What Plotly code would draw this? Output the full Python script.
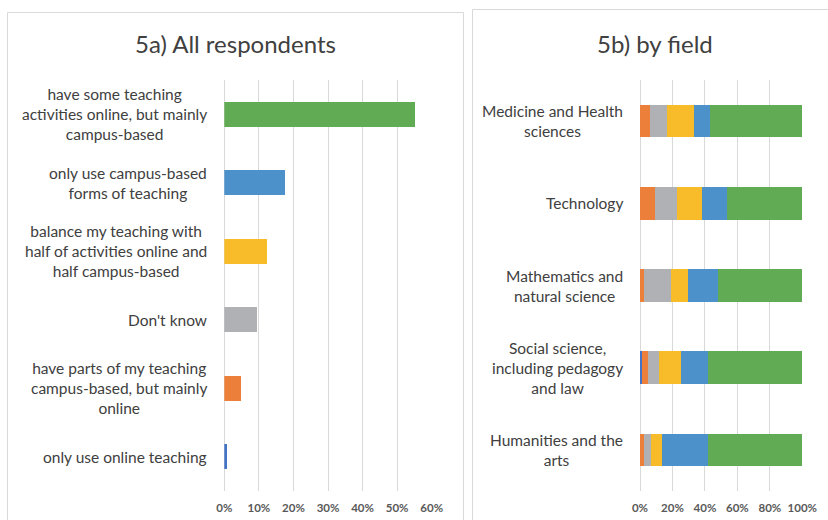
import plotly.graph_objects as go

W, H = 828, 520

# ---- 5a) All respondents ----
answers = [
    "have some teaching<br>activities online, but mainly<br>campus-based",
    "only use campus-based<br>forms of teaching",
    "balance my teaching with<br>half of activities online and<br>half campus-based",
    "Don't know",
    "have parts of my teaching<br>campus-based, but mainly<br>online",
    "only use online teaching",
]
answer_share = [0.552, 0.175, 0.123, 0.095, 0.048, 0.008]
answer_colors = ["#62AB55", "#4C91C9", "#F8BC2A", "#B0B1B4", "#EC7F3A", "#4472C4"]

# ---- 5b) by field ----
fields = [
    "Medicine and Health<br>sciences",
    "Technology",
    "Mathematics and<br>natural science",
    "Social science,<br>including pedagogy<br>and law",
    "Humanities and the<br>arts",
]
only_online = [0.000, 0.000, 0.000, 0.012, 0.000]
mainly_online = [0.060, 0.095, 0.022, 0.037, 0.025]
dont_know = [0.107, 0.136, 0.166, 0.066, 0.045]
balance = [0.168, 0.150, 0.105, 0.136, 0.066]
only_campus = [0.095, 0.154, 0.189, 0.170, 0.283]
mainly_campus = [0.570, 0.465, 0.518, 0.579, 0.581]

segments = [
    ("only use online teaching", only_online, "#4472C4"),
    ("mainly online", mainly_online, "#EC7F3A"),
    ("Don't know", dont_know, "#B0B1B4"),
    ("balance", balance, "#F8BC2A"),
    ("only campus", only_campus, "#4C91C9"),
    ("mainly campus", mainly_campus, "#62AB55"),
]

TEXT = "#404040"
GRID = "#D9D9D9"
FONT = "Lato"


def px_x(p):
    return p / W


def px_y(p):
    return 1 - p / H


fig = go.Figure()

fig.add_trace(go.Bar(
    x=answer_share, y=answers, orientation="h",
    marker=dict(color=answer_colors, line=dict(width=0)),
    width=0.365, xaxis="x", yaxis="y", showlegend=False, hoverinfo="x+y",
))

for name, vals, col in segments:
    fig.add_trace(go.Bar(
        x=vals, y=fields, orientation="h", name=name,
        marker=dict(color=col, line=dict(width=0)),
        width=0.396, xaxis="x2", yaxis="y2", showlegend=False,
    ))

plot_top, plot_bot = 80, 491
ydom = [px_y(plot_bot), px_y(plot_top)]

tickfont = dict(family=FONT, size=11.5, color="#595959")

common_x = dict(
    showgrid=True, gridcolor=GRID, gridwidth=1,
    zeroline=True, zerolinecolor=GRID, zerolinewidth=1,
    showline=False, ticks="", tickfont=tickfont, automargin=False,
    ticklabelstandoff=8, fixedrange=True,
)
common_y = dict(
    domain=ydom, type="category", categoryorder="array",
    autorange="reversed", showticklabels=False, showgrid=False,
    zeroline=False, showline=False, ticks="", automargin=False,
    fixedrange=True,
)

fig.update_layout(
    width=W, height=H, autosize=False,
    margin=dict(l=0, r=0, t=0, b=0, pad=0, autoexpand=False),
    paper_bgcolor="white", plot_bgcolor="white",
    barmode="stack",
    showlegend=False,
    font=dict(family=FONT, color=TEXT),
    xaxis=dict(
        domain=[px_x(224.3), px_x(431.7)], range=[0, 0.6], anchor="y",
        tickvals=[0, 0.1, 0.2, 0.3, 0.4, 0.5, 0.6],
        ticktext=["<b>0%</b>", "<b>10%</b>", "<b>20%</b>", "<b>30%</b>",
                  "<b>40%</b>", "<b>50%</b>", "<b>60%</b>"],
        **common_x,
    ),
    yaxis=dict(anchor="x", categoryarray=answers, **common_y),
    xaxis2=dict(
        domain=[px_x(640), px_x(802.3)], range=[0, 1], anchor="y2",
        tickvals=[0, 0.2, 0.4, 0.6, 0.8, 1.0],
        ticktext=["<b>0%</b>", "<b>20%</b>", "<b>40%</b>", "<b>60%</b>",
                  "<b>80%</b>", "<b>100%</b>"],
        **common_x,
    ),
    yaxis2=dict(anchor="x2", categoryarray=fields, **common_y),
)

# Category labels: centred multi-line blocks, right-aligned against the axis
for a in answers:
    fig.add_annotation(
        x=px_x(209), xref="paper", y=a, yref="y", text=a,
        showarrow=False, xanchor="right", yanchor="middle", align="center",
        font=dict(family=FONT, size=15.5, color=TEXT),
    )
for f in fields:
    fig.add_annotation(
        x=px_x(625), xref="paper", y=f, yref="y2", text=f,
        showarrow=False, xanchor="right", yanchor="middle", align="center",
        font=dict(family=FONT, size=15.5, color=TEXT),
    )

# Panel titles
fig.add_annotation(x=px_x(235), y=px_y(43), xref="paper", yref="paper",
                   text="5a) All respondents", showarrow=False,
                   xanchor="center", yanchor="middle",
                   font=dict(family=FONT, size=24, color=TEXT))
fig.add_annotation(x=px_x(655), y=px_y(43), xref="paper", yref="paper",
                   text="5b) by field", showarrow=False,
                   xanchor="center", yanchor="middle",
                   font=dict(family=FONT, size=24, color=TEXT))

# Panel frames (open at the page edges)
frame = dict(type="path", xref="paper", yref="paper",
             line=dict(color=GRID, width=1), layer="below")
lx0, lx1, ly0 = px_x(7.5), px_x(463.5), px_y(12.5)
fig.add_shape(path=f"M {lx0},0 L {lx0},{ly0} L {lx1},{ly0} L {lx1},0", **frame)
rx0, ry0 = px_x(472.5), px_y(9.5)
fig.add_shape(path=f"M {rx0},0 L {rx0},{ry0} L 1,{ry0}", **frame)

fig.write_html("out.html")
